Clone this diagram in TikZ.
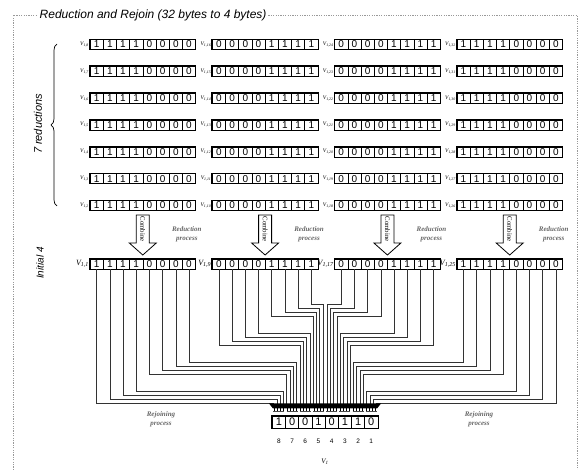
\documentclass[tikz,border=0pt]{standalone}
\usepackage{fontspec}
\setmainfont{Liberation Serif}
\setsansfont{Liberation Sans}
\usetikzlibrary{positioning, calc, decorations.pathreplacing}

% one 8-bit register: name, left x, centre y, list of bits
\newcommand{\register}[5][cell]{%
  \foreach \b [count=\i] in #5 {
    \node[#1] (#2-\i) at ({#3+13.2*(\i-0.5)},#4) {\b};
  }
  \draw[regframe] (#2-1.north west) rectangle (#2-8.south east);
}
\def\resbits{1,0,0,1,0,1,1,0}

\begin{document}
\begin{tikzpicture}[x=1pt, y=-1pt,
  cell/.style={draw, line width=0.6pt, minimum width=13.2pt, minimum height=10pt,
               inner sep=0pt, font=\sffamily\fontsize{10}{10}\selectfont},
  rescell/.style={cell, minimum height=12pt, font=\sffamily\fontsize{11}{11}\selectfont},
  regframe/.style={line width=1.1pt},
  vlab/.style={inner sep=0.3pt, font=\fontsize{5.5}{5.5}\selectfont},
  vlabbig/.style={vlab, font=\fontsize{8}{8}\selectfont},
  wire/.style={line width=0.5pt, black!80},
  combarrow/.style={draw, fill=white, line width=0.8pt, line join=miter},
  combtxt/.style={font=\fontsize{6.8}{6.8}\selectfont, rotate=-90, inner sep=0pt},
  proclab/.style={align=center, font=\fontsize{7}{9}\selectfont\bfseries\itshape, text=black!60},
  sidelab/.style={font=\sffamily\itshape\fontsize{11}{11}\selectfont, rotate=90},
  titlelab/.style={font=\sffamily\itshape\fontsize{12}{12}\selectfont, fill=white,
                   inner sep=1.5pt, anchor=west},
  dashframe/.style={draw=gray!80, line width=0.9pt, dash pattern=on 1.2pt off 1.2pt},
  numlab/.style={font=\sffamily\fontsize{6.5}{6.5}\selectfont, inner sep=0pt},
  bracedeco/.style={decorate, decoration={brace, amplitude=6pt}, line width=0.7pt},
]
  \useasboundingbox (0,0) rectangle (579,470);
  \draw[dashframe] (13,470) -- (13,15) -- (577,15) -- (577,470);
  \node[titlelab] (title) at (38,15) {Reduction and Rejoin (32 bytes to 4 bytes)};

  % the 7 reduced rows
  \foreach \j in {0,...,6} {
    \foreach \c/\bits in {1/{1,1,1,1,0,0,0,0}, 2/{0,0,0,0,1,1,1,1},
                          3/{0,0,0,0,1,1,1,1}, 4/{1,1,1,1,0,0,0,0}} {
      \pgfmathtruncatemacro\idx{8*\c-\j}
      \register{r\c\j}{90+122.3*(\c-1)}{44.5+26.83*\j}{\bits}
      \node[vlab, left=0.3pt of r\c\j-1] (l\c\j) {\textit{V\textsubscript{1,\idx}}};
    }
  }

  % initial 4
  \foreach \c/\bits in {1/{1,1,1,1,0,0,0,0}, 2/{0,0,0,0,1,1,1,1},
                        3/{0,0,0,0,1,1,1,1}, 4/{1,1,1,1,0,0,0,0}} {
    \pgfmathtruncatemacro\idx{8*\c-7}
    \register{i\c}{90+122.3*(\c-1)}{264}{\bits}
    \node[vlabbig, left=0.3pt of i\c-1] (li\c) {\textit{V\textsubscript{1,\idx}}};
  }

  % combine arrows
  \foreach \c in {1,...,4} {
    \pgfmathsetmacro\xc{90+122.3*(\c-1)+52.8}
    \coordinate (comb\c) at (\xc,215);
    \draw[combarrow] (comb\c) ++(-6.5,0) -- ++(13,0) -- ++(0,28) -- ++(7,0)
      -- ++(-13.5,12) -- ++(-13.5,-12) -- ++(7,0) -- cycle;
    \node[combtxt] (ct\c) at (\xc,229) {Combine};
    \node[proclab] (rp\c) at (\xc+44,234.5) {Reduction\\process};
  }

  \draw[bracedeco] (57,206) -- (57,44);
  \node[sidelab] (red7) at (38,124) {7 reductions};
  \node[sidelab, font=\sffamily\itshape\fontsize{10}{10}\selectfont] (init4) at (40,263) {Initial 4};

  % bend points and funnel inputs
  \foreach \k in {0,...,15} {
    \pgfmathsetmacro\yk{304+4*mod(\k,4)+29*int(\k/4)}
    \coordinate (bL\k) at (323-3.3*\k,\yk);
    \coordinate (bR\k) at (327+3.3*\k,\yk);
    \coordinate (inL\k) at (323-3.3*\k,404);
    \coordinate (inR\k) at (327+3.3*\k,404);
  }
  \foreach \i in {1,...,8} {
    \pgfmathtruncatemacro\ka{16-\i}
    \pgfmathtruncatemacro\kb{8-\i}
    \pgfmathtruncatemacro\kc{\i-1}
    \pgfmathtruncatemacro\kd{7+\i}
    \draw[wire] (i1-\i.south) |- (bL\ka) -- (inL\ka);
    \draw[wire] (i2-\i.south) |- (bL\kb) -- (inL\kb);
    \draw[wire] (i3-\i.south) |- (bR\kc) -- (inR\kc);
    \draw[wire] (i4-\i.south) |- (bR\kd) -- (inR\kd);
  }

  % rejoin
  \fill (269,403.5) -- (381,403.5) -- (377,408.5) -- (273,408.5) -- cycle;
  \register[rescell]{res}{272.3}{422}{\resbits}
  \foreach \m in {1,...,8} {
    \pgfmathsetmacro\xm{272.3+13.2*(\m-0.5)}
    \foreach \t in {-4.5,-1.5,1.5,4.5}
      \draw[line width=0.8pt] (\xm+\t,408) -- (\xm+\t,411.5);
    \draw[line width=0.5pt, black!70] (\xm-5.5,411.5) -- (\xm+5.5,411.5);
  }
  \foreach \n [count=\m] in {8,7,...,1}
    \node[numlab] (n\m) at ($(res-\m.south)+(0,13)$) {\n};
  \node[vlab, font=\fontsize{7}{7}\selectfont] (reslab) at (325,462) {\textit{V\textsubscript{1}}};

  \node[proclab] (rj1) at (161,419) {Rejoining\\process};
  \node[proclab] (rj2) at (479,419) {Rejoining\\process};
\end{tikzpicture}
\end{document}
